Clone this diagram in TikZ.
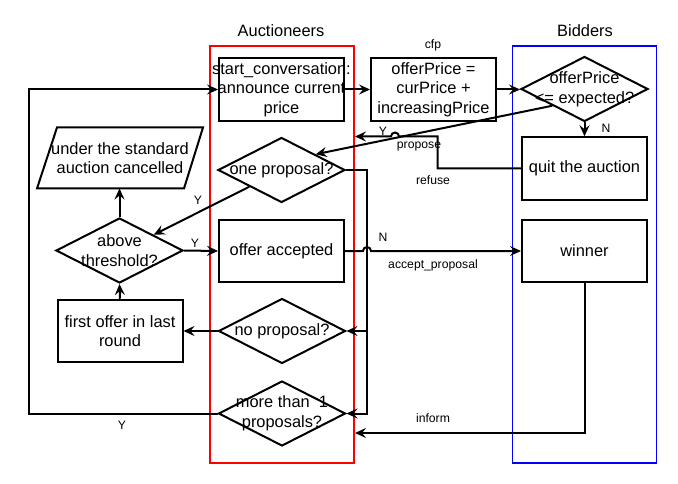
\documentclass[tikz,border=0pt]{standalone}
\usepackage{fontspec}
\setmainfont{Liberation Sans}
\usetikzlibrary{shapes.geometric,arrows.meta,calc}
\begin{document}
\begin{tikzpicture}[x=1pt,y=-1pt,
  every node/.style={font=\fontsize{16.4}{19.7}\selectfont, align=center, inner sep=0pt},
  box/.style={draw, line width=2pt, fill=white, minimum width=125pt, minimum height=62.5pt},
  dia/.style={diamond, draw, line width=2pt, fill=white, minimum width=127pt, minimum height=65pt},
  lbl/.style={font=\fontsize{12.2}{14}\selectfont},
  arr/.style={line width=2pt, -{Stealth[length=11pt,width=10pt,inset=4pt]}},
  ln/.style={line width=2pt},
  lane/.style={line width=1.8pt, minimum width=144pt, minimum height=417pt}
]
\useasboundingbox (0,0) rectangle (678,484);
% lanes
\node[lane, draw=red] (laneA) at (282,254.5) {};
\node[lane, draw=blue] (laneB) at (584.5,254.5) {};
\node (tA) at (281,31) {Auctioneers};
\node (tB) at (585,31) {Bidders};
% shapes
\node[box] (start) at (281.5,89.5) {};
\node (starttxt) at (start) {start\_conversation:\\announce current\\price};
\node[box] (offer) at (433.5,89.5) {offerPrice =\\curPrice +\\increasingPrice};
\node[dia] (dexp) at (584.5,89) {};
\node (dexptxt) at (dexp) {offerPrice\\<= expected?};
\node[box] (quit) at (584.5,168.5) {quit the auction};
\node[box] (winner) at (584.5,251) {winner};
\node[dia] (done) at (281.5,170) {};
\node (donetxt) at (done) {one proposal?};
\node[box] (acc) at (281.5,251) {offer accepted};
\node[dia] (dno) at (282,331) {};
\node (dnotxt) at (dno) {no proposal?};
\node[dia] (dmore) at (282,413.5) {};
\node (dmoretxt) at (dmore) {more than\ \ 1\\proposals?};
\draw[ln, fill=white] (57,127.5) -- (203,127.5) -- (184,188.5) -- (37,188.5) -- cycle;
\node (cancel) at (120,158) {under the standard\\auction cancelled};
\coordinate (cb) at (119.5,188.5);
\node[dia] (dthr) at (119.5,250.5) {};
\node (dthrtxt) at (dthr) {above\\threshold?};
\node[box] (first) at (120,331) {first offer in last\\round};
% helper coordinates
\coordinate (ptip) at (355,136.5);
\coordinate (itip) at (355,433);
\coordinate (vx) at (367,413.5);
\coordinate (vb) at (367,331);
% connectors
\draw[arr] (start.east) -- (offer.west);
\draw[arr] (offer.east) -- (offer.east -| dexp.west);
\draw[arr] (dexp.south) -- (quit.north);
\draw[arr] ($(dexp.west)!0.5!(dexp.south)$) -- ($(done.north)!0.53!(done.east)$);
\draw[arr] (quit.west) -- (437.5,168.5) -- (437.5,136.5) -- (399,136.5)
  arc[start angle=0, end angle=180, radius=4pt] -- (ptip);
\draw[arr] ($(done.west)!0.5!(done.south)$) -- ($(dthr.north)!0.53!(dthr.east)$);
\draw[arr] (dthr.north) -- (cb);
\draw[arr] (dthr.east) -- (acc.west);
\draw[arr] (acc.east) -- (363,251) arc[start angle=180, end angle=0, radius=4pt] -- (winner.west);
\draw[arr] (done.east) -| (vx) -- (dmore.east);
\draw[arr] (vb) -- (dno.east);
\draw[arr] (dno.west) -- (first.east);
\draw[arr] (first.north) -- (dthr.south);
\draw[arr] (dmore.west) -- (29,413.5) |- (start.west);
\draw[arr] (winner.south) |- (itip);
% labels
\node[lbl] (lcfp) at (433,45) {cfp};
\node[lbl] (lN1) at (606,128) {N};
\node[lbl] (lY1) at (383,131) {Y};
\node[lbl] (lprop) at (419,146) {propose};
\node[lbl] (lref) at (433,180) {refuse};
\node[lbl] (lY2) at (198,200) {Y};
\node[lbl] (lY3) at (195,243) {Y};
\node[lbl] (lN2) at (383,237) {N};
\node[lbl] (lacc) at (433,265) {accept\_proposal};
\node[lbl] (linf) at (433,418) {inform};
\node[lbl] (lY4) at (122,425) {Y};
\end{tikzpicture}
\end{document}
